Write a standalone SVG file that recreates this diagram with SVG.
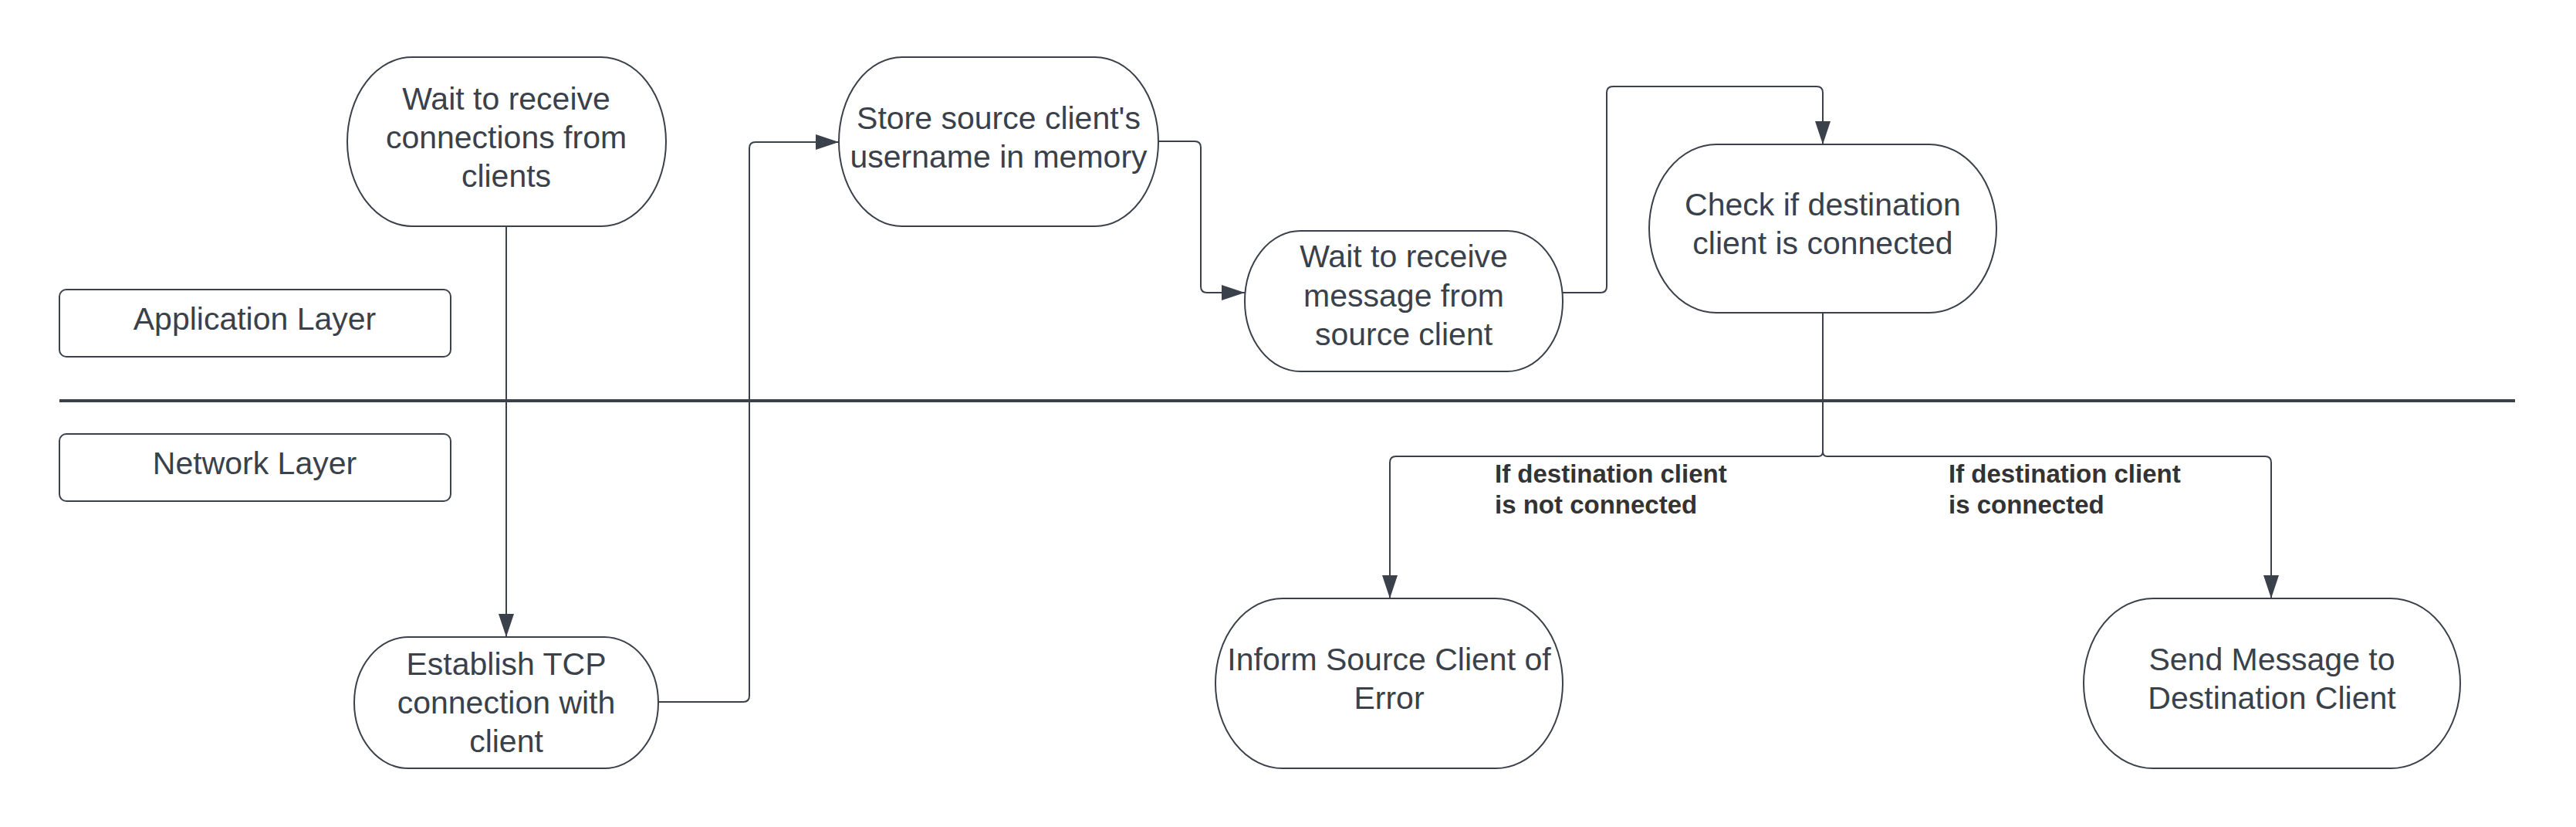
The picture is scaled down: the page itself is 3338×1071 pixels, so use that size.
<svg xmlns="http://www.w3.org/2000/svg" width="3338" height="1071" viewBox="0 0 3338 1071">
<style>
.node{fill:#ffffff;stroke:#3a414a;stroke-width:2}
.layer{fill:#ffffff;stroke:#3a414a;stroke-width:2}
.t{font-family:"Liberation Sans",Arial,sans-serif;font-size:41px;fill:#3a414a;text-anchor:middle}
.lbl{font-family:"Liberation Sans",Arial,sans-serif;font-size:33px;font-weight:bold;fill:#333333}
.conn{fill:none;stroke:#3a414a;stroke-width:2;stroke-linejoin:round}
</style>
<defs>
<marker id="arrow" markerUnits="userSpaceOnUse" markerWidth="30" markerHeight="20" refX="30" refY="10" orient="auto">
<path d="M0,0 L30,10 L0,20 Z" fill="#3a414a"/>
</marker>
</defs>
<rect width="3338" height="1071" fill="#ffffff"/>

<g id="separator">
<line x1="77" y1="519" x2="3259" y2="519" stroke="#3a414a" stroke-width="4"/>
</g>

<g id="connectors">
<path class="conn" d="M656,293 L656,825" marker-end="url(#arrow)"/>
<path class="conn" d="M853,909 L963,909 Q971,909 971,901 L971,192 Q971,184 979,184 L1087,184" marker-end="url(#arrow)"/>
<path class="conn" d="M1501,183 L1548,183 Q1556,183 1556,191 L1556,371 Q1556,379 1564,379 L1613,379" marker-end="url(#arrow)"/>
<path class="conn" d="M2025,379 L2074,379 Q2082,379 2082,371 L2082,120 Q2082,112 2090,112 L2354,112 Q2362,112 2362,120 L2362,187" marker-end="url(#arrow)"/>
<path class="conn" d="M2362,405 L2362,585 Q2362,591 2356,591 L1809,591 Q1801,591 1801,599 L1801,775" marker-end="url(#arrow)"/>
<path class="conn" d="M2362,405 L2362,585 Q2362,591 2368,591 L2935,591 Q2943,591 2943,599 L2943,775" marker-end="url(#arrow)"/>
<text class="lbl" x="1937" y="625">If destination client</text>
<text class="lbl" x="1937" y="665">is not connected</text>
<text class="lbl" x="2525" y="625">If destination client</text>
<text class="lbl" x="2525" y="665">is connected</text>
</g>

<g id="app-layer">
<rect class="layer" x="77" y="375" width="507" height="87" rx="9"/>
<text class="t" x="330" y="427">Application Layer</text>
</g>

<g id="net-layer">
<rect class="layer" x="77" y="562" width="507" height="87" rx="9"/>
<text class="t" x="330" y="614">Network Layer</text>
</g>

<g id="wait-connections">
<rect class="node" x="450" y="74" width="413" height="219" rx="84" ry="109.5"/>
<text class="t" x="656" y="142">Wait to receive</text>
<text class="t" x="656" y="192">connections from</text>
<text class="t" x="656" y="242">clients</text>
</g>

<g id="establish-tcp">
<rect class="node" x="459" y="825" width="394" height="170" rx="70" ry="85"/>
<text class="t" x="656" y="874">Establish TCP</text>
<text class="t" x="656" y="924">connection with</text>
<text class="t" x="656" y="974">client</text>
</g>

<g id="store-username">
<rect class="node" x="1087" y="74" width="414" height="219" rx="82" ry="109.5"/>
<text class="t" x="1294" y="167">Store source client's</text>
<text class="t" x="1294" y="217">username in memory</text>
</g>

<g id="wait-message">
<rect class="node" x="1613" y="299" width="412" height="182" rx="72" ry="91"/>
<text class="t" x="1819" y="346">Wait to receive</text>
<text class="t" x="1819" y="397">message from</text>
<text class="t" x="1819" y="447">source client</text>
</g>

<g id="check-connected">
<rect class="node" x="2137" y="187" width="450" height="218" rx="87" ry="109"/>
<text class="t" x="2362" y="279">Check if destination</text>
<text class="t" x="2362" y="329">client is connected</text>
</g>

<g id="inform-error">
<rect class="node" x="1575" y="775" width="450" height="220" rx="87" ry="110"/>
<text class="t" x="1800" y="868">Inform Source Client of</text>
<text class="t" x="1800" y="918">Error</text>
</g>

<g id="send-message">
<rect class="node" x="2700" y="775" width="488" height="220" rx="90" ry="110"/>
<text class="t" x="2944" y="868">Send Message to</text>
<text class="t" x="2944" y="918">Destination Client</text>
</g>
</svg>
